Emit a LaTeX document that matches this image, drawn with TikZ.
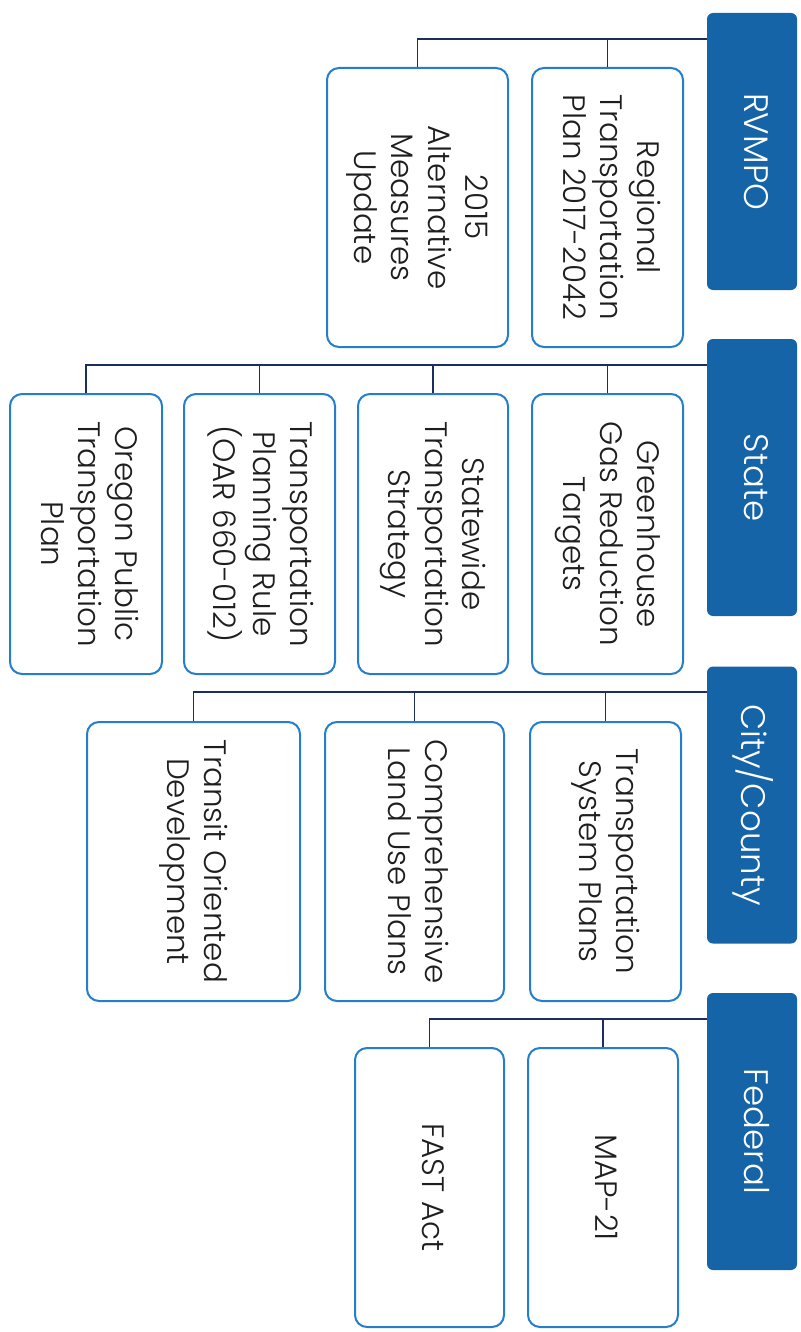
\documentclass[tikz,border=0pt]{standalone}
\usepackage{fontspec}
\IfFontExistsTF{Poppins Light}{\setmainfont{Poppins Light}}{\setmainfont{Poppins}}
\usetikzlibrary{calc}
\definecolor{hdrblue}{RGB}{22,100,168}
\definecolor{boxblue}{RGB}{36,125,205}
\definecolor{connblue}{RGB}{28,45,95}
\definecolor{txt}{RGB}{30,30,30}
\newcommand{\rt}[1]{\rotatebox{-90}{\begin{tabular}{@{}c@{}}#1\end{tabular}}}
\tikzset{
  hdr/.style={fill=hdrblue, rounded corners=6pt, minimum width=90pt, minimum height=277pt,
    inner sep=0pt, text=white, font=\fontsize{34}{37}\selectfont},
  item/.style={draw=boxblue, line width=2pt, fill=white, rounded corners=12pt,
    inner sep=0pt, text=txt, font=\fontsize{31}{37}\selectfont},
  conn/.style={draw=connblue, line width=1.8pt}
}
\begin{document}
\begin{tikzpicture}[x=1pt,y=-1pt]
\useasboundingbox (0,0) rectangle (800,1332);
% headers
\node[hdr] (h1) at (752,151.5) {\rt{RVMPO}};
\node[hdr] (h2) at (752,477.5) {\rt{State}};
\node[hdr] (h3) at (752,805) {\rt{City/County}};
\node[hdr] (h4) at (752,1131.5) {\rt{Federal}};
% RVMPO row
\node[item, minimum width=151pt, minimum height=279pt] (r1) at (607.5,207.5) {\rt{Regional\\Transportation\\Plan 2017-2042}};
\node[item, minimum width=181pt, minimum height=279pt] (r2) at (417.5,207.5) {\rt{2015\\Alternative\\Measures\\Update}};
% State row
\node[item, minimum width=151pt, minimum height=280pt] (s1) at (607.5,534) {\rt{Greenhouse\\Gas Reduction\\Targets}};
\node[item, minimum width=150pt, minimum height=280pt] (s2) at (433,534) {\rt{Statewide\\Transportation\\Strategy}};
\node[item, minimum width=151pt, minimum height=280pt] (s3) at (259.5,534) {\rt{Transportation\\Planning Rule\\(OAR 660-012)}};
\node[item, minimum width=152pt, minimum height=280pt] (s4) at (86,534) {\rt{Oregon Public\\Transportation\\Plan}};
% City row
\node[item, minimum width=151pt, minimum height=279pt] (c1) at (605.5,861.5) {\rt{Transportation\\System Plans}};
\node[item, minimum width=179pt, minimum height=279pt] (c2) at (414.5,861.5) {\rt{Comprehensive\\Land Use Plans}};
\node[item, minimum width=213pt, minimum height=279pt] (c3) at (193.5,861.5) {\rt{Transit Oriented\\Development}};
% Federal row
\node[item, minimum width=150pt, minimum height=279pt] (f1) at (603,1187.5) {\rt{MAP-21}};
\node[item, minimum width=149pt, minimum height=279pt] (f2) at (429.5,1187.5) {\rt{FAST Act}};
% connector levels
\coordinate (k1) at ($(h1.north west)+(0,26)$);
\coordinate (k2) at ($(h2.north west)+(0,26)$);
\coordinate (k3) at ($(h3.north west)+(0,26)$);
\coordinate (k4) at ($(h4.north west)+(0,26)$);
% connectors
\draw[conn] (k1) -- (k1 -| r2.north) -- (r2.north);
\draw[conn] (k1 -| r1.north) -- (r1.north);
\draw[conn] (k2) -- (k2 -| s4.north) -- (s4.north);
\draw[conn] (k2 -| s1.north) -- (s1.north);
\draw[conn] (k2 -| s2.north) -- (s2.north);
\draw[conn] (k2 -| s3.north) -- (s3.north);
\draw[conn] (k3) -- (k3 -| c3.north) -- (c3.north);
\draw[conn] (k3 -| c1.north) -- (c1.north);
\draw[conn] (k3 -| c2.north) -- (c2.north);
\draw[conn] (k4) -- (k4 -| f2.north) -- (f2.north);
\draw[conn] (k4 -| f1.north) -- (f1.north);
\end{tikzpicture}
\end{document}
